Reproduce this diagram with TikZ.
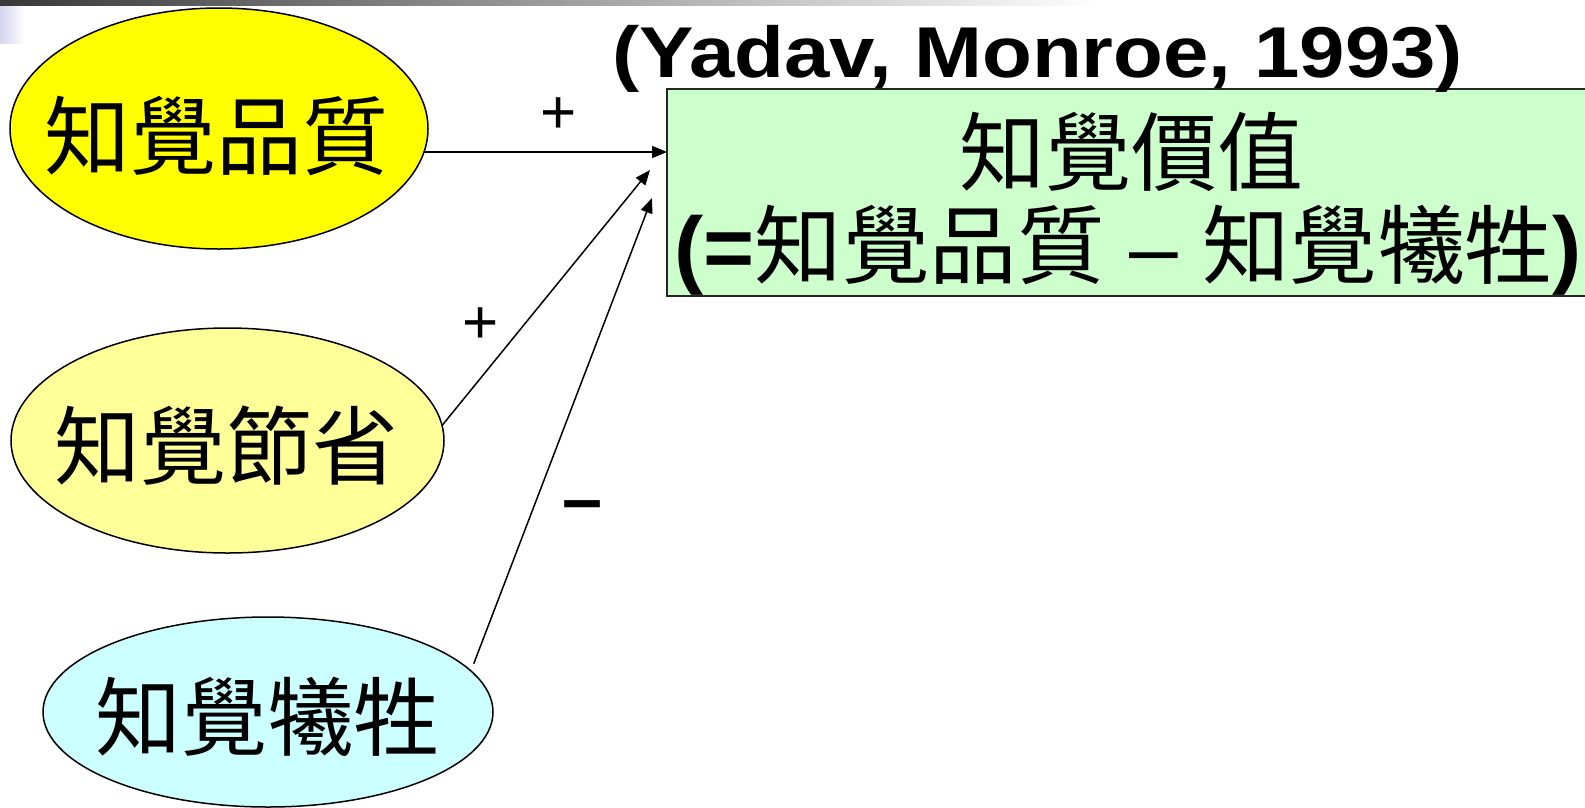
\documentclass[tikz,border=0pt]{standalone}
\usepackage{fontspec}
\usepackage{graphicx}
\usetikzlibrary{shapes.geometric,arrows.meta}
\newfontfamily\cjk{Noto Sans CJK TC}
\newfontfamily\arial{Liberation Sans}
\definecolor{ellA}{HTML}{FFFF00}
\definecolor{ellB}{HTML}{FFFF99}
\definecolor{ellC}{HTML}{CCFFFF}
\definecolor{boxG}{HTML}{CCFFCC}
\definecolor{lav}{RGB}{212,212,238}
\tikzset{
  ell/.style={shape=ellipse, draw=black, line width=1.5pt, inner sep=0pt, outer sep=0pt},
  cjklab/.style={inner sep=0pt, font=\cjk\fontsize{86}{90}\selectfont},
  sign/.style={inner sep=0pt, font=\arial\fontsize{62}{66}\selectfont},
  arr/.style={-{Triangle[length=15pt,width=12pt]}, line width=1.5pt},
}
\begin{document}
\begin{tikzpicture}[x=1pt,y=-1pt]
\useasboundingbox (0,0) rectangle (1585,807);
\fill[white] (0,0) rectangle (1585,807);
% top bar and corner mark
\shade[left color=black!78, right color=white] (0,0) rectangle (1100,5);
\shade[left color=lav, right color=white] (0,6) rectangle (25,43);
% main box
\node (box) [draw=black!85, line width=1.5pt, fill=boxG, minimum width=926pt, minimum height=207pt, inner sep=0pt, outer sep=0pt] at (1130,192.5) {};
\node (v1) [cjklab] at (1131,152) {知覺價值};
\node (v2) [inner sep=0pt] at (1128,250) {\resizebox{907pt}{\height}{\fontsize{86}{90}\selectfont{\arial\bfseries (=}{\cjk 知覺品質}{\arial\ –\ }{\cjk 知覺犧牲}{\arial\bfseries )}}};
% title
\node (title) [inner sep=0pt] at (1037.5,59) {\resizebox{851pt}{\height}{\arial\bfseries\fontsize{72}{76}\selectfont (Yadav, Monroe, 1993)}};
% ellipses
\node (e1) [ell, fill=ellA, minimum width=418pt, minimum height=241pt] at (219,128.5) {};
\node (e2) [ell, fill=ellB, minimum width=433pt, minimum height=225pt] at (227.5,440.5) {};
\node (e3) [ell, fill=ellC, minimum width=450pt, minimum height=190pt] at (268,712) {};
\node (e1t) [cjklab] at (216,136) {知覺品質};
\node (e2t) [cjklab] at (226,446) {知覺節省};
\node (e3t) [cjklab] at (267,717) {知覺犧牲};
% arrow targets
\coordinate (t1) at (667,152);
\coordinate (t2) at (650,170);
\coordinate (t3) at (652,198);
\draw[arr] ([xshift=-4pt]e1.east |- t1) -- (t1);
\draw[arr] (e2.4) -- (t2);
\draw[arr] ([xshift=12pt]e3.14) -- (t3);
% signs
\node (p1) [sign] at (559,116) {+};
\node (p2) [sign] at (481,326) {+};
\node (m3) [sign, font=\arial\bfseries\fontsize{72}{76}\selectfont] at (583,512) {–};
\end{tikzpicture}
\end{document}
